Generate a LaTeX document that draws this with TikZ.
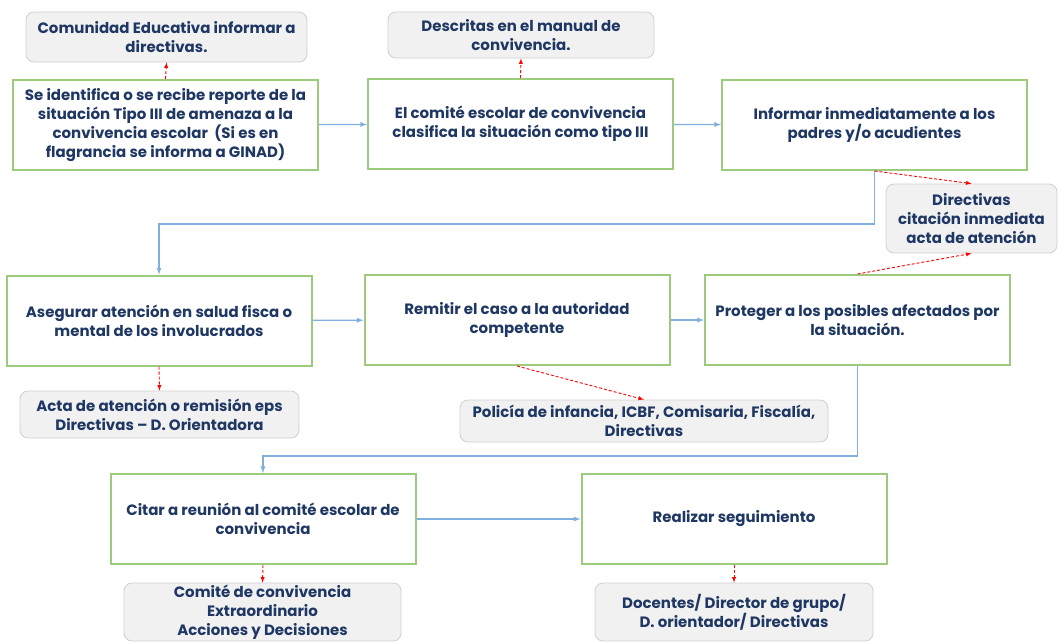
\documentclass[tikz,border=0pt]{standalone}
\usepackage{fontspec}
\setmainfont{Poppins}
\usepackage{tikz}

\definecolor{navy}{HTML}{1F3763}
\definecolor{boxgreen}{HTML}{9CCB7C}
\definecolor{linkblue}{HTML}{7FAFDF}
\definecolor{notegray}{HTML}{F1F1F1}
\definecolor{noteline}{HTML}{CFCFCF}

\begin{document}
\begin{tikzpicture}[x=1pt, y=-1pt, >=latex,
    font=\fontsize{15}{19}\selectfont\bfseries,
    stepbox/.style={draw=boxgreen, line width=2pt, fill=white, text=navy, align=center,
        minimum width=305pt, minimum height=90pt, inner sep=2pt},
    notebox/.style={draw=noteline, line width=0.8pt, fill=notegray, text=navy, align=center,
        rounded corners=8pt, inner sep=1pt},
    flow/.style={draw=linkblue, line width=1.3pt, ->},
    refer/.style={draw=red, line width=0.9pt, dashed, dash pattern=on 3pt off 2pt, ->}]
    \useasboundingbox (0,0) rectangle (1058,641);

    % steps
    \node[stepbox] (ident) at (165.5,125) {Se identifica o se recibe reporte de la\\situación Tipo III de amenaza a la\\convivencia escolar\ \ (Si es en\\flagrancia se informa a GINAD)};
    \node[stepbox] (comite) at (520.5,124) {El comité escolar de convivencia\\clasifica la situación como tipo III};
    \node[stepbox] (informar) at (874.5,125) {Informar inmediatamente a los\\padres y/o acudientes};
    \node[stepbox] (asegurar) at (159,320.5) {Asegurar atención en salud fisca o\\mental de los involucrados};
    \node[stepbox] (remitir) at (517,320) {Remitir el caso a la autoridad\\competente};
    \node[stepbox] (proteger) at (857.5,320) {Proteger a los posibles afectados por\\la situación.};
    \node[stepbox] (citar) at (263,519) {Citar a reunión al comité escolar de\\convivencia};
    \node[stepbox] (seguir) at (734,519) {Realizar seguimiento};

    % notes
    \node[notebox, minimum width=281pt, minimum height=50pt] (comunidad) at (166.5,37) {Comunidad Educativa informar a\\directivas.};
    \node[notebox, minimum width=266pt, minimum height=46pt] (descritas) at (521,35) {Descritas en el manual de\\convivencia.};
    \node[notebox, minimum width=171pt, minimum height=69pt] (directivas) at (971.5,218.5) {Directivas\\citación inmediata\\acta de atención};
    \node[notebox, minimum width=279pt, minimum height=47pt] (acta) at (159.5,414.5) {Acta de atención o remisión eps\\Directivas -- D. Orientadora};
    \node[notebox, minimum width=368pt, minimum height=42pt] (policia) at (644,421) {Policía de infancia, ICBF, Comisaria, Fiscalía,\\Directivas};
    \node[notebox, minimum width=277pt, minimum height=58pt] (comiteconv) at (262.5,612) {Comité de convivencia\\Extraordinario\\Acciones y Decisiones};
    \node[notebox, minimum width=278pt, minimum height=58pt] (docentes) at (734,612) {Docentes/ Director de grupo/\\D. orientador/ Directivas};

    % flow
    \draw[flow] (ident) -- (comite);
    \draw[flow] (comite) -- (informar);
    \draw[flow] (informar.south) -- ++(0,53) -| (asegurar.north);
    \draw[flow] (asegurar) -- (remitir);
    \draw[flow] (remitir) -- (proteger);
    \draw[flow] (proteger.south) -- ++(0,90) -| (citar.north);
    \draw[flow] (citar) -- (seguir);

    % references
    \draw[refer] (ident.north) -- (comunidad.south);
    \draw[refer] (comite.north) -- (descritas.south);
    \draw[refer] (informar.south) -- (directivas.north);
    \draw[refer] (proteger.north) -- (directivas.south);
    \draw[refer] (asegurar.south) -- (acta.north);
    \draw[refer] (remitir.south) -- (policia.north);
    \draw[refer] (citar.south) -- (comiteconv.north);
    \draw[refer] (seguir.south) -- (docentes.north);
\end{tikzpicture}
\end{document}
